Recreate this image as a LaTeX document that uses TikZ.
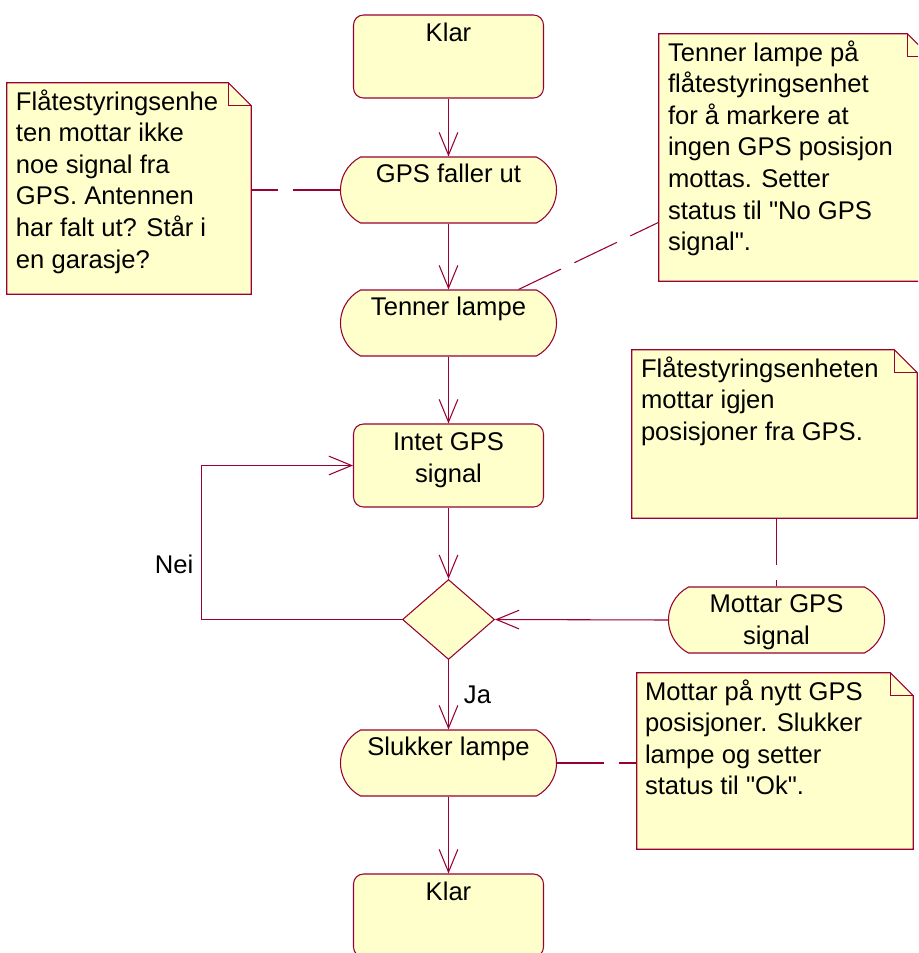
\documentclass[tikz,border=0pt]{standalone}
\usepackage{fontspec}
\setmainfont{Liberation Sans}[Ligatures=TeXOff]
\usetikzlibrary{shapes.misc,shapes.geometric,arrows.meta,calc}

\definecolor{rose}{RGB}{153,0,51}
\definecolor{paper}{RGB}{255,255,204}
\newcommand\dfont{\fontsize{19.2pt}{23.7pt}\selectfont}
% invisible rule fixing the height of the first text line
\newcommand\topstrut{\rule{0pt}{18pt}}
% straight double quote
\newcommand\dq{\symbol{34}}
% dog-eared note paper drawn over a rectangular node
\newcommand\notepaper[1]{%
  \draw[roseline, fill=paper] (#1.south west) -- (#1.north west)
    -- ($(#1.north east)+(-23,0)$) -- ($(#1.north east)+(0,23)$)
    -- (#1.south east) -- cycle;
  \draw[roseline] ($(#1.north east)+(-23,0)$) -- ($(#1.north east)+(-23,23)$)
    -- ($(#1.north east)+(0,23)$);}

\begin{document}
\begin{tikzpicture}[x=0.75pt,y=-0.75pt,
  roseline/.style={draw=rose, line width=0.8pt},
  statebox/.style={roseline, fill=paper, rectangle, rounded corners=7.5pt,
    minimum width=142.5pt, minimum height=62.25pt, inner sep=0pt},
  activity/.style={roseline, fill=paper, rounded rectangle,
    rounded rectangle arc length=125,
    minimum width=162pt, minimum height=49.5pt, inner sep=0pt},
  choice/.style={roseline, fill=paper, diamond,
    minimum width=69pt, minimum height=60pt, inner sep=0pt},
  notearea/.style={rectangle, inner sep=0pt},
  notetext/.style={font=\dfont, align=left, inner sep=0pt, anchor=north west},
  heading/.style={font=\dfont, align=center, inner sep=0pt, anchor=north},
  lbl/.style={font=\dfont, inner sep=0pt, anchor=base},
  flow/.style={roseline, -{Straight Barb[length=17pt,width=14pt]}},
  anchorline/.style={roseline, dash pattern=on 35.25pt off 11.25pt}
]
\useasboundingbox (0,0) rectangle (918,953);
\clip (0,0) rectangle (918,953);
\fill[white] (0,0) rectangle (918,953);

% ---- states and activities ----
\node[statebox] (klarA) at (448.5,56.5) {};
\node[heading] (klarAtxt) at ($(klarA.north)+(0,3)$) {\topstrut Klar};

\node[activity] (gps) at (448.5,190) {};
\node[heading] (gpstxt) at ($(gps.north)+(0,2)$) {\topstrut GPS faller ut};

\node[activity] (tenner) at (448.5,323) {};
\node[heading] (tennertxt) at ($(tenner.north)+(0,2)$) {\topstrut Tenner lampe};

\node[statebox] (intet) at (448.5,465.5) {};
\node[heading] (intettxt) at ($(intet.north)+(0,3)$) {\topstrut Intet GPS\\signal};

\node[choice] (dia) at (448.5,619.5) {};

\node[activity] (mottar) at (776.5,620) {};
\node[heading] (mottartxt) at ($(mottar.north)+(0,2)$) {\topstrut Mottar GPS\\signal};

\node[activity] (slukker) at (448.5,763) {};
\node[heading] (slukkertxt) at ($(slukker.north)+(0,2)$) {\topstrut Slukker lampe};

\node[statebox] (klarB) at (448.5,915.5) {};
\node[heading] (klarBtxt) at ($(klarB.north)+(0,3)$) {\topstrut Klar};

% ---- notes ----
\node[notearea, minimum width=183pt, minimum height=158.25pt] (noteA) at (129,188.5) {};
\notepaper{noteA}
\node[notetext] (noteAtxt) at ($(noteA.north west)+(9,3)$)
  {\topstrut Flåtestyringsenhe\\ten mottar ikke\\noe signal fra\\GPS. Antennen\\har falt ut? Står i\\en garasje?};

\node[notearea, minimum width=203.25pt, minimum height=185.25pt] (noteB) at (794.5,157.5) {};
\notepaper{noteB}
\node[notetext] (noteBtxt) at ($(noteB.north west)+(9,3)$)
  {\topstrut Tenner lampe på\\flåtestyringsenhet\\for å markere at\\ingen GPS posisjon\\mottas. Setter\\status til \dq No GPS\\signal\dq.};

\node[notearea, minimum width=213.75pt, minimum height=126pt] (noteC) at (774.5,434) {};
\notepaper{noteC}
\node[notetext] (noteCtxt) at ($(noteC.north west)+(9,3)$)
  {\topstrut Flåtestyringsenheten\\mottar igjen\\posisjoner fra GPS.};

\node[notearea, minimum width=207pt, minimum height=132pt] (noteD) at (775,761) {};
\notepaper{noteD}
\node[notetext] (noteDtxt) at ($(noteD.north west)+(8,3)$)
  {\topstrut Mottar på nytt GPS\\posisjoner. Slukker\\lampe og setter\\status til \dq Ok\dq.};

% ---- note anchors ----
\draw[anchorline] (gps.west) -- (noteA.east |- gps.west);
\draw[anchorline] (tenner) -- (noteB);
\draw[anchorline] (mottar.north |- noteC.south) -- (mottar.north);
\draw[anchorline] (slukker.east) -- (noteD.west |- slukker.east);

% ---- transitions ----
\draw[flow] (klarA.south) -- (gps.north);
\draw[flow] (gps.south) -- (tenner.north);
\draw[flow] (tenner.south) -- (intet.north);
\draw[flow] (intet.south) -- (dia.north);
\draw[flow] (mottar.west) -- (dia.east);
\coordinate (loopturn) at (201.7,619.5);
\draw[flow] (dia.west) -- (loopturn) |- (intet.west);
\draw[flow] (dia.south) -- (slukker.north);
\draw[flow] (slukker.south) -- (klarB.north);

\node[lbl] (nei) at (174,573) {Nei};
\node[lbl] (ja) at (477.5,703) {Ja};
\end{tikzpicture}
\end{document}
